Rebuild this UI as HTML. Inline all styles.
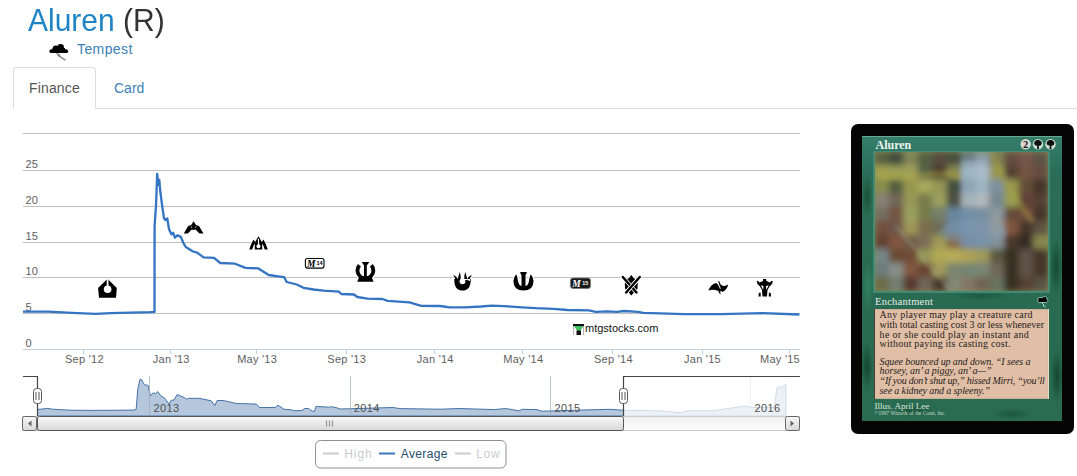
<!DOCTYPE html>
<html><head><meta charset="utf-8">
<style>
html,body{margin:0;padding:0;background:#fff;overflow:hidden;}
body{width:1077px;height:476px;overflow:hidden;position:relative;font-family:"Liberation Sans",sans-serif;}
.abs{position:absolute;white-space:nowrap;}
</style></head><body>
<div class="abs" style="left:28px;top:6px;font-size:30px;line-height:30px;color:#1f84c6;transform:scaleY(1.05);transform-origin:0 26px">Aluren <span style="color:#333">(R)</span></div>
<svg class="abs" style="left:48px;top:42px" width="22" height="20">
<path d="M3.3,9.2 L18.2,9.2" stroke="#000" stroke-width="3.8" stroke-linecap="round"/>
<circle cx="7.6" cy="6.4" r="2.9" fill="#000"/><circle cx="12.6" cy="5.3" r="3.3" fill="#000"/><rect x="4.5" y="6" width="12.5" height="4" fill="#000"/>
<path d="M8.3,11.2 L11.5,13 L10.2,13.6 L17.5,18.2" stroke="#777" stroke-width="1.2" fill="none"/>
</svg>
<div class="abs" style="left:77px;top:41px;font-size:14px;line-height:16px;color:#3a80b9;letter-spacing:0.4px">Tempest</div>
<div class="abs" style="left:13px;top:67px;width:81px;height:41px;border:1px solid #ddd;border-bottom:none;border-radius:4px 4px 0 0;background:#fff"></div>
<div class="abs" style="left:96px;top:108px;width:981px;height:1px;background:#ddd"></div>
<div class="abs" style="left:29px;top:79px;font-size:14px;line-height:18px;color:#555;letter-spacing:0.15px">Finance</div>
<div class="abs" style="left:114px;top:79px;font-size:14px;line-height:18px;color:#3d7fb6">Card</div>
<svg width="1077" height="476" style="position:absolute;left:0;top:0">
<defs><linearGradient id="btn" x1="0" y1="0" x2="0" y2="1"><stop offset="0" stop-color="#f8f8f8"/><stop offset="1" stop-color="#d8d8d8"/></linearGradient><linearGradient id="trk" x1="0" y1="0" x2="0" y2="1"><stop offset="0" stop-color="#eeeeee"/><stop offset="1" stop-color="#ffffff"/></linearGradient></defs>
<path d="M23,133.5 L800,133.5" stroke="#c0c0c0" stroke-width="1" fill="none"/>
<path d="M23,170.5 L800,170.5" stroke="#c0c0c0" stroke-width="1" fill="none"/>
<path d="M23,206.5 L800,206.5" stroke="#c0c0c0" stroke-width="1" fill="none"/>
<path d="M23,242.5 L800,242.5" stroke="#c0c0c0" stroke-width="1" fill="none"/>
<path d="M23,277.5 L800,277.5" stroke="#c0c0c0" stroke-width="1" fill="none"/>
<path d="M23,313.5 L800,313.5" stroke="#c0c0c0" stroke-width="1" fill="none"/>
<path d="M23,349.5 L800,349.5" stroke="#c0d0e0" stroke-width="1" fill="none"/>
<path d="M83.5,349.5 L83.5,354" stroke="#c0d0e0" stroke-width="1"/>
<path d="M170.5,349.5 L170.5,354" stroke="#c0d0e0" stroke-width="1"/>
<path d="M256.5,349.5 L256.5,354" stroke="#c0d0e0" stroke-width="1"/>
<path d="M346.5,349.5 L346.5,354" stroke="#c0d0e0" stroke-width="1"/>
<path d="M434.5,349.5 L434.5,354" stroke="#c0d0e0" stroke-width="1"/>
<path d="M522.5,349.5 L522.5,354" stroke="#c0d0e0" stroke-width="1"/>
<path d="M612.5,349.5 L612.5,354" stroke="#c0d0e0" stroke-width="1"/>
<path d="M702.5,349.5 L702.5,354" stroke="#c0d0e0" stroke-width="1"/>
<path d="M789.5,349.5 L789.5,354" stroke="#c0d0e0" stroke-width="1"/>
<g font-family="Liberation Sans, sans-serif" font-size="11" fill="#606060" letter-spacing="0.25">
<text x="25.5" y="168.0">25</text>
<text x="25.5" y="204.0">20</text>
<text x="25.5" y="240.0">15</text>
<text x="25.5" y="275.0">10</text>
<text x="25.5" y="311.0">5</text>
<text x="25.5" y="347.0">0</text>
<text x="84.4" y="363" text-anchor="middle">Sep '12</text>
<text x="171.3" y="363" text-anchor="middle">Jan '13</text>
<text x="257.1" y="363" text-anchor="middle">May '13</text>
<text x="346.7" y="363" text-anchor="middle">Sep '13</text>
<text x="435.3" y="363" text-anchor="middle">Jan '14</text>
<text x="523.3" y="363" text-anchor="middle">May '14</text>
<text x="613.4" y="363" text-anchor="middle">Sep '14</text>
<text x="702.5" y="363" text-anchor="middle">Jan '15</text>
<text x="800" y="363" text-anchor="end">May '15</text>
</g>
<path d="M23.0,311.6 L48.6,311.6 L72.0,312.8 L95.4,313.9 L111.0,313.2 L130.5,312.6 L150.0,312.2 L154.5,311.9 L154.6,226.0 L155.6,211.7 L156.0,205.8 L157.2,173.9 L158.4,184.8 L159.3,179.8 L160.1,189.8 L162.3,206.7 L164.0,218.4 L165.6,220.1 L167.3,218.4 L169.0,229.3 L171.5,234.4 L173.2,232.7 L174.9,237.7 L177.4,235.2 L180.8,236.9 L183.3,242.8 L185.8,247.0 L193.0,251.5 L197.2,252.6 L203.5,257.4 L214.0,257.8 L220.3,263.0 L235.0,263.7 L245.5,267.9 L258.0,268.3 L268.7,275.0 L280.0,276.6 L284.2,277.2 L286.7,282.0 L296.8,284.5 L303.5,287.8 L313.6,289.5 L323.7,290.7 L338.8,291.7 L341.3,294.0 L354.0,294.5 L357.3,297.0 L367.4,298.7 L382.5,299.0 L387.6,300.8 L409.4,302.4 L421.2,305.8 L439.7,306.0 L444.1,306.5 L449.4,307.3 L465.3,307.3 L481.2,306.5 L491.7,305.6 L504.1,306.1 L521.7,307.3 L535.9,308.2 L553.5,308.8 L567.6,310.0 L588.8,310.3 L595.8,311.8 L606.4,311.4 L617.0,311.8 L624.0,311.0 L637.9,311.9 L643.4,312.8 L684.3,314.1 L721.4,314.1 L762.3,313.2 L799.4,314.5" stroke="#3474c2" stroke-width="2.3" fill="none" stroke-linejoin="round"/>
<path d="M37.5,409.5 L47.8,408.4 L52.3,409.2 L70.1,410.2 L92.4,410.4 L134.0,410.1 L136.2,409.2 L137.7,389.9 L140.0,379.2 L141.4,379.5 L144.4,384.7 L148.1,385.4 L150.4,395.8 L153.3,392.8 L155.6,393.6 L157.8,391.6 L160.8,395.8 L164.5,398.0 L168.9,404.0 L171.2,400.3 L174.1,400.0 L177.1,394.6 L184.5,397.6 L186.7,399.3 L188.2,398.3 L199.3,398.3 L211.2,400.8 L214.9,405.6 L217.1,400.5 L223.1,400.5 L236.5,403.5 L248.4,403.8 L256.5,404.1 L259.5,407.5 L275.1,407.5 L278.1,405.3 L284.0,409.3 L290.7,409.7 L294.4,410.8 L301.8,410.5 L304.8,408.5 L308.5,408.5 L312.2,411.2 L314.5,411.2 L316.0,406.4 L328.6,407.2 L331.6,406.7 L337.5,408.0 L340.0,409.0 L393.5,407.5 L399.4,408.6 L441.0,409.2 L458.9,408.5 L494.5,409.6 L500.0,409.0 L505.9,408.6 L513.4,409.8 L519.3,410.8 L522.3,409.3 L537.1,409.6 L541.6,411.2 L580.2,410.1 L610.0,409.3 L623.4,410.3 L660.0,410.8 L680.8,412.7 L686.0,410.8 L712.0,410.8 L736.7,407.2 L744.5,406.0 L753.6,407.5 L774.4,407.5 L777.0,387.4 L779.6,386.7 L781.6,387.7 L784.8,384.4 L785.9,384.0 L785.9,416 L37.5,416 Z" fill="#b5c7dc" stroke="#4572a7" stroke-width="1"/>
<path d="M149.5,376 L149.5,416" stroke="#a0a8b0" stroke-opacity="0.7" stroke-width="1"/>
<path d="M350.5,376 L350.5,416" stroke="#a0a8b0" stroke-opacity="0.7" stroke-width="1"/>
<path d="M550.5,376 L550.5,416" stroke="#a0a8b0" stroke-opacity="0.7" stroke-width="1"/>
<path d="M750.5,376 L750.5,416" stroke="#a0a8b0" stroke-opacity="0.7" stroke-width="1"/>
<rect x="624" y="376" width="176" height="40.5" fill="#ffffff" fill-opacity="0.75"/>
<rect x="23" y="376" width="14.5" height="40.5" fill="#ffffff" fill-opacity="0.75"/>
<g font-family="Liberation Sans, sans-serif" font-size="11" fill="#505050" letter-spacing="0.4">
<text x="153.4" y="411.6">2013</text>
<text x="353.7" y="411.6">2014</text>
<text x="554.5" y="411.6">2015</text>
<text x="754.4" y="411.6">2016</text>
</g>
<path d="M23,376.5 L37.5,376.5 L37.5,416.5 L623.5,416.5 L623.5,376.5 L800,376.5" stroke="#444" stroke-width="1.2" fill="none"/>
<rect x="22.5" y="416.5" width="777" height="14" fill="url(#trk)" stroke="#cccccc" stroke-width="1"/>
<rect x="37.5" y="416.5" width="586" height="14" rx="2" fill="url(#btn)" stroke="#555" stroke-width="1"/>
<path d="M326.5,420.5 L326.5,426.5 M329.5,420.5 L329.5,426.5 M332.5,420.5 L332.5,426.5" stroke="#999" stroke-width="1.2"/>
<rect x="22.5" y="416.5" width="14" height="14" rx="2" fill="url(#btn)" stroke="#666" stroke-width="1"/>
<path d="M28,423.5 L31.5,420.5 L31.5,426.5 Z" fill="#666"/>
<rect x="785.5" y="416.5" width="14" height="14" rx="2" fill="url(#btn)" stroke="#666" stroke-width="1"/>
<path d="M794,423.5 L790.5,420.5 L790.5,426.5 Z" fill="#666"/>
<rect x="33.5" y="388.5" width="8" height="15" rx="3" fill="#fff" stroke="#555" stroke-width="1"/>
<path d="M36.0,392 L36.0,400 M39.0,392 L39.0,400" stroke="#555" stroke-width="1"/>
<rect x="619.5" y="388.5" width="8" height="15" rx="3" fill="#fff" stroke="#555" stroke-width="1"/>
<path d="M622.0,392 L622.0,400 M625.0,392 L625.0,400" stroke="#555" stroke-width="1"/>
</svg>

<svg width="1077" height="476" style="position:absolute;left:0;top:0">
<defs><g id="ic">
<!-- RTR -->
<path d="M107.5,278.8 L116.8,288 L116,297.8 L99,297.8 L98.1,288 Z"/>
<!-- GTC -->
<path d="M193.6,221.3 L196,225 L199,226 L203.5,233.5 L199.5,233.5 L195.5,229.5 L193.6,230 L191.7,229.5 L187.8,233.5 L183.8,233.5 L188.2,226 L191.2,225 Z"/>
<!-- DGM -->
<path d="M253.6,239.6 Q250.8,244 249.2,249.6 L252.3,249.6 Q253.3,245.5 255.3,242.2 Z M263.4,239.6 Q266.2,244 267.8,249.6 L264.7,249.6 Q263.7,245.5 261.7,242.2 Z M258.5,236.2 L260.3,239.2 L262.2,242.8 L262.2,249.6 L254.8,249.6 L254.8,242.8 L256.7,239.2 Z"/>
<!-- THS -->
<path d="M361.7,262.1 L369.4,262.1 L366.8,265.5 L366.8,276.5 L364,276.5 L364,265.5 Z"/>
<path d="M358.0,263.9 A9.9,9.9 0 1 0 372.8,263.9 L369.9,266.6 A6.0,6.0 0 1 1 360.9,266.6 Z"/>
<path d="M359.5,276.3 L371.3,276.3 L373.6,281.8 L357.2,281.8 Z"/>
<!-- BNG -->
<path d="M454.3,279 L470.7,279 Q471,290.6 462.5,290.6 Q454,290.6 454.3,279 Z M453.1,275 Q457,276 458,280 L455,281 Q455.5,277.5 453.1,275 Z M459.8,272.1 Q461.3,276 460.8,280 L457.5,280 Q458.5,276 459.8,272.1 Z M465.2,272.1 Q463.7,276 464.2,280 L467.5,280 Q466.5,276 465.2,272.1 Z M471.9,275 Q468,276 467,280 L470,281 Q469.5,277.5 471.9,275 Z"/>
<!-- JOU -->
<path d="M516.3,274.2 Q517.5,277 517.8,280 Q518.5,285.5 521.5,286 L521.5,275 L520.3,273.3 L520.3,272.1 L526.7,272.1 L526.7,273.3 L525.5,275 L525.5,286 Q528.5,285.5 529.2,280 Q529.5,277 530.7,274.2 Q533.5,277 533.5,281 Q533.5,290.6 523.5,290.6 Q513.4,290.6 513.4,281 Q513.4,277 516.3,274.2 Z"/>
<!-- KTK -->
<path d="M631.3,275.1 L633.8,278.3 L637.8,280 L637.5,288.5 L631.3,295.5 L625,288.5 L624.8,280 L628.8,278.3 Z"/>
<!-- FRF -->
<path d="M708.3,290.5 Q711,283.5 716.5,283 L719.5,286.5 L718.2,282 L719,280.5 Q719.5,284 722.5,285.8 Q725.5,286.5 728.2,284.5 Q727,290 722.5,292 L720.5,290.5 L720.3,295 L718.3,291 Q713,289 708.3,290.5 Z"/>
<!-- DTK -->
<path d="M763,279 L766,279 L766.5,281 L770,282.5 L771.5,280.8 L772.8,281.3 L772,284 L769.5,286.5 L767.5,290 L767,296.5 L762.5,296.5 L762,290 L760,286.5 L757.5,284 L756.7,281.3 L758,280.8 L759.5,282.5 L763,281 Z M758.8,293 L760.5,292.5 L760.8,296.5 L758.5,296.5 Z M770.7,293 L769,292.5 L768.7,296.5 L771,296.5 Z"/>
</g></defs>
<use href="#ic" fill="#fff" stroke="#fff" stroke-width="2.2" stroke-linejoin="round"/>
<use href="#ic" fill="#000"/>
<g fill="#fff">
<circle cx="107.6" cy="289.3" r="3.8"/><rect x="106.7" y="278" width="1.8" height="10"/><circle cx="462.5" cy="281.3" r="2.9"/><rect x="460.8" y="272" width="3.4" height="9"/>
<path d="M190.5,226.5 L192,228.3 L191.5,226.3 Z M196.7,226.5 L195.2,228.3 L195.7,226.3 Z"/>
<circle cx="258.5" cy="246.2" r="2"/><rect x="257.9" y="238.8" width="1.2" height="7"/>

<path d="M760.8,285.3 L763.5,286 L763.2,290 Z M768.7,285.3 L766,286 L766.3,290 Z"/>
<path d="M717.5,283 L720,289 L720.8,288.6 L718.3,282.6 Z"/>
</g>
<g stroke-linecap="round">
<path d="M622.8,277 L636.5,292.5 M639.8,277 L626.1,292.5" stroke="#fff" stroke-width="4"/>
<path d="M622.8,277 L636.5,292.5" stroke="#000" stroke-width="2.4"/>
<path d="M639.8,277 L626.1,292.5" stroke="#fff" stroke-width="4"/>
<path d="M639.8,277 L626.1,292.5" stroke="#000" stroke-width="2.4"/>
</g>
<!-- M14 -->
<rect x="305.4" y="258.5" width="18.6" height="9.6" rx="2" fill="#fff" stroke="#000" stroke-width="1.1"/>
<text x="307" y="266.8" font-family="Liberation Serif,serif" font-weight="bold" font-style="italic" font-size="9.5" fill="#000" letter-spacing="-0.6">M</text>
<text x="316.5" y="264.6" font-family="Liberation Sans,sans-serif" font-weight="bold" font-size="5.5" fill="#000">14</text>
<!-- M15 -->
<rect x="570.5" y="278" width="20" height="10.5" rx="2.5" fill="#1a1a1a" stroke="#777" stroke-width="0.8"/>
<text x="572.3" y="286.8" font-family="Liberation Serif,serif" font-weight="bold" font-style="italic" font-size="9.5" fill="#fff" letter-spacing="-0.6">M</text>
<text x="582.3" y="284.8" font-family="Liberation Sans,sans-serif" font-weight="bold" font-size="5.5" fill="#fff">15</text>
<!-- mtgstocks -->
<rect x="573" y="324" width="11" height="2.2" fill="#111"/>
<path d="M574,326 L583.5,326 L579.8,331.5 L577.6,331.5 Z" fill="#3cc060"/>
<rect x="576.5" y="330.5" width="4.5" height="4.5" fill="#111"/>
<path d="M573.6,326 L573.6,335 M583.6,326 L583.6,335" stroke="#999" stroke-width="0.8"/>
<text x="585" y="331.8" font-family="Liberation Sans,sans-serif" font-size="11" fill="#111">mtgstocks.com</text>
<!-- legend -->
<rect x="315.5" y="440.5" width="190.5" height="27.5" rx="5" fill="none" stroke="#909090" stroke-width="1"/>
<path d="M323,453.5 L339,453.5" stroke="#cccccc" stroke-width="2"/>
<path d="M379,453.5 L395,453.5" stroke="#3a78c0" stroke-width="2"/>
<path d="M454.8,453.5 L470.8,453.5" stroke="#cccccc" stroke-width="2"/>
<g font-family="Liberation Sans,sans-serif" font-size="12">
<text x="344.3" y="457.8" fill="#cccccc" letter-spacing="0.9">High</text>
<text x="400.8" y="457.8" fill="#274b6d" letter-spacing="0.35">Average</text>
<text x="476.2" y="457.8" fill="#cccccc" letter-spacing="0.7">Low</text>
</g>
</svg>


<div class="abs" style="left:851px;top:124px;width:223px;height:310px;background:#050505;border-radius:7px"></div>
<div class="abs" style="left:862px;top:136px;width:200px;height:285px;background:
radial-gradient(ellipse 8px 30px at 5px 60px, rgba(20,70,50,0.7), rgba(20,70,50,0) 70%),
radial-gradient(ellipse 8px 40px at 6px 150px, rgba(60,150,120,0.5), rgba(60,150,120,0) 70%),
radial-gradient(ellipse 9px 35px at 5px 230px, rgba(15,60,40,0.8), rgba(15,60,40,0) 70%),
radial-gradient(ellipse 9px 40px at 194px 130px, rgba(15,65,45,0.8), rgba(15,65,45,0) 70%),
radial-gradient(ellipse 9px 40px at 195px 240px, rgba(15,60,40,0.8), rgba(15,60,40,0) 70%),
radial-gradient(ellipse 30px 9px at 50px 275px, rgba(20,70,50,0.6), rgba(20,70,50,0) 70%),
radial-gradient(ellipse 30px 9px at 150px 278px, rgba(20,70,50,0.6), rgba(20,70,50,0) 70%),
radial-gradient(ellipse 40px 6px at 120px 160px, rgba(20,70,50,0.5), rgba(20,70,50,0) 70%),
linear-gradient(180deg,#347e6c 0px,#2f7864 16px,#2a6c56 40px,#286a52 150px,#2a6c52 285px)"></div>
<div class="abs" style="left:862px;top:136px;width:200px;height:1px;background:#6aa890"></div>
<div class="abs" style="left:875.5px;top:137px;font-family:'Liberation Serif',serif;font-weight:bold;font-size:12px;line-height:16px;color:#eef4ee;letter-spacing:0px">Aluren</div>
<svg class="abs" style="left:1020px;top:138px" width="38" height="13">
<circle cx="5.7" cy="6.3" r="5.2" fill="#d8d8d0"/><text x="5.7" y="10.2" font-family="Liberation Serif,serif" font-weight="bold" font-size="10.5" text-anchor="middle" fill="#111">2</text>
<circle cx="18" cy="6.3" r="5.2" fill="#d0e0d0"/><path d="M18,2 C15,2 13.5,4.5 14.5,6.5 C15.5,8 17,7.5 17.3,8 L17,11 L19,11 L18.7,8 C19,7.5 20.5,8 21.5,6.5 C22.5,4.5 21,2 18,2 Z" fill="#101010"/>
<circle cx="30.5" cy="6.3" r="5.2" fill="#d0e0d0"/><path d="M30.5,2 C27.5,2 26,4.5 27,6.5 C28,8 29.5,7.5 29.8,8 L29.5,11 L31.5,11 L31.2,8 C31.5,7.5 33,8 34,6.5 C35,4.5 33.5,2 30.5,2 Z" fill="#101010"/>
</svg>
<div class="abs" style="left:873px;top:151px;width:177px;height:142px;background:#438a70"></div>
<svg width="173" height="139" style="position:absolute;left:875px;top:152px;display:block"><defs><filter id="bl" x="-5%" y="-5%" width="110%" height="110%"><feGaussianBlur stdDeviation="3"/></filter><filter id="bl2" x="-10%" y="-10%" width="120%" height="120%"><feGaussianBlur stdDeviation="2"/></filter><clipPath id="ac"><rect width="173" height="139"/></clipPath><pattern id="tx" width="9" height="7" patternUnits="userSpaceOnUse" patternTransform="rotate(30)"><path d="M0,3.5 Q2.25,1 4.5,3.5 T9,3.5" stroke="#1a1a10" stroke-width="1" fill="none"/></pattern></defs><g clip-path="url(#ac)"><rect width="173" height="139" fill="#809058"/><g filter="url(#bl)"><rect x="-0.5" y="-0.5" width="15.4" height="14.9" fill="#5c6143"/><rect x="13.9" y="-0.5" width="15.4" height="14.9" fill="#424e3c"/><rect x="28.3" y="-0.5" width="15.4" height="14.9" fill="#818556"/><rect x="42.8" y="-0.5" width="15.4" height="14.9" fill="#546042"/><rect x="57.2" y="-0.5" width="15.4" height="14.9" fill="#574b3e"/><rect x="71.6" y="-0.5" width="15.4" height="14.9" fill="#4a4f3d"/><rect x="86.0" y="-0.5" width="15.4" height="14.9" fill="#6b7d83"/><rect x="100.4" y="-0.5" width="15.4" height="14.9" fill="#899aa5"/><rect x="114.8" y="-0.5" width="15.4" height="14.9" fill="#7f7f54"/><rect x="129.2" y="-0.5" width="15.4" height="14.9" fill="#654d40"/><rect x="143.7" y="-0.5" width="15.4" height="14.9" fill="#74554a"/><rect x="158.1" y="-0.5" width="15.4" height="14.9" fill="#5e5246"/><rect x="-0.5" y="13.4" width="15.4" height="14.9" fill="#a0a053"/><rect x="13.9" y="13.4" width="15.4" height="14.9" fill="#9a9f59"/><rect x="28.3" y="13.4" width="15.4" height="14.9" fill="#a0a05a"/><rect x="42.8" y="13.4" width="15.4" height="14.9" fill="#546048"/><rect x="57.2" y="13.4" width="15.4" height="14.9" fill="#4a3932"/><rect x="71.6" y="13.4" width="15.4" height="14.9" fill="#868650"/><rect x="86.0" y="13.4" width="15.4" height="14.9" fill="#93abb7"/><rect x="100.4" y="13.4" width="15.4" height="14.9" fill="#a4b5c1"/><rect x="114.8" y="13.4" width="15.4" height="14.9" fill="#979750"/><rect x="129.2" y="13.4" width="15.4" height="14.9" fill="#544135"/><rect x="143.7" y="13.4" width="15.4" height="14.9" fill="#745543"/><rect x="158.1" y="13.4" width="15.4" height="14.9" fill="#654d40"/><rect x="-0.5" y="27.3" width="15.4" height="14.9" fill="#878d4c"/><rect x="13.9" y="27.3" width="15.4" height="14.9" fill="#535f3c"/><rect x="28.3" y="27.3" width="15.4" height="14.9" fill="#979750"/><rect x="42.8" y="27.3" width="15.4" height="14.9" fill="#a9a95d"/><rect x="57.2" y="27.3" width="15.4" height="14.9" fill="#979757"/><rect x="71.6" y="27.3" width="15.4" height="14.9" fill="#424e3c"/><rect x="86.0" y="27.3" width="15.4" height="14.9" fill="#788fa1"/><rect x="100.4" y="27.3" width="15.4" height="14.9" fill="#93abb7"/><rect x="114.8" y="27.3" width="15.4" height="14.9" fill="#7e909c"/><rect x="129.2" y="27.3" width="15.4" height="14.9" fill="#979750"/><rect x="143.7" y="27.3" width="15.4" height="14.9" fill="#644d39"/><rect x="158.1" y="27.3" width="15.4" height="14.9" fill="#44362a"/><rect x="-0.5" y="41.2" width="15.4" height="14.9" fill="#868074"/><rect x="13.9" y="41.2" width="15.4" height="14.9" fill="#716559"/><rect x="28.3" y="41.2" width="15.4" height="14.9" fill="#979757"/><rect x="42.8" y="41.2" width="15.4" height="14.9" fill="#767b4c"/><rect x="57.2" y="41.2" width="15.4" height="14.9" fill="#9aa05f"/><rect x="71.6" y="41.2" width="15.4" height="14.9" fill="#4b4f43"/><rect x="86.0" y="41.2" width="15.4" height="14.9" fill="#9ea4a4"/><rect x="100.4" y="41.2" width="15.4" height="14.9" fill="#aeaeae"/><rect x="114.8" y="41.2" width="15.4" height="14.9" fill="#758792"/><rect x="129.2" y="41.2" width="15.4" height="14.9" fill="#999f52"/><rect x="143.7" y="41.2" width="15.4" height="14.9" fill="#624337"/><rect x="158.1" y="41.2" width="15.4" height="14.9" fill="#544135"/><rect x="-0.5" y="55.1" width="15.4" height="14.9" fill="#736d61"/><rect x="13.9" y="55.1" width="15.4" height="14.9" fill="#745543"/><rect x="28.3" y="55.1" width="15.4" height="14.9" fill="#9aa05f"/><rect x="42.8" y="55.1" width="15.4" height="14.9" fill="#767b4c"/><rect x="57.2" y="55.1" width="15.4" height="14.9" fill="#737f6b"/><rect x="71.6" y="55.1" width="15.4" height="14.9" fill="#69869d"/><rect x="86.0" y="55.1" width="15.4" height="14.9" fill="#718fa6"/><rect x="100.4" y="55.1" width="15.4" height="14.9" fill="#788fa1"/><rect x="114.8" y="55.1" width="15.4" height="14.9" fill="#8e9aa0"/><rect x="129.2" y="55.1" width="15.4" height="14.9" fill="#644b39"/><rect x="143.7" y="55.1" width="15.4" height="14.9" fill="#724f3c"/><rect x="158.1" y="55.1" width="15.4" height="14.9" fill="#44362a"/><rect x="-0.5" y="69.0" width="15.4" height="14.9" fill="#724f3c"/><rect x="13.9" y="69.0" width="15.4" height="14.9" fill="#6c5448"/><rect x="28.3" y="69.0" width="15.4" height="14.9" fill="#9e9958"/><rect x="42.8" y="69.0" width="15.4" height="14.9" fill="#7b6d50"/><rect x="57.2" y="69.0" width="15.4" height="14.9" fill="#6d6c54"/><rect x="71.6" y="69.0" width="15.4" height="14.9" fill="#6e8698"/><rect x="86.0" y="69.0" width="15.4" height="14.9" fill="#7890a7"/><rect x="100.4" y="69.0" width="15.4" height="14.9" fill="#7f90a2"/><rect x="114.8" y="69.0" width="15.4" height="14.9" fill="#9b9b95"/><rect x="129.2" y="69.0" width="15.4" height="14.9" fill="#82573f"/><rect x="143.7" y="69.0" width="15.4" height="14.9" fill="#44362a"/><rect x="158.1" y="69.0" width="15.4" height="14.9" fill="#5e5240"/><rect x="-0.5" y="82.9" width="15.4" height="14.9" fill="#614231"/><rect x="13.9" y="82.9" width="15.4" height="14.9" fill="#82573f"/><rect x="28.3" y="82.9" width="15.4" height="14.9" fill="#6e5c4a"/><rect x="42.8" y="82.9" width="15.4" height="14.9" fill="#7b6e56"/><rect x="57.2" y="82.9" width="15.4" height="14.9" fill="#9e9958"/><rect x="71.6" y="82.9" width="15.4" height="14.9" fill="#86674a"/><rect x="86.0" y="82.9" width="15.4" height="14.9" fill="#758799"/><rect x="100.4" y="82.9" width="15.4" height="14.9" fill="#788fa1"/><rect x="114.8" y="82.9" width="15.4" height="14.9" fill="#859197"/><rect x="129.2" y="82.9" width="15.4" height="14.9" fill="#49372b"/><rect x="143.7" y="82.9" width="15.4" height="14.9" fill="#342c26"/><rect x="158.1" y="82.9" width="15.4" height="14.9" fill="#868650"/><rect x="-0.5" y="96.8" width="15.4" height="14.9" fill="#768686"/><rect x="13.9" y="96.8" width="15.4" height="14.9" fill="#694b33"/><rect x="28.3" y="96.8" width="15.4" height="14.9" fill="#714c35"/><rect x="42.8" y="96.8" width="15.4" height="14.9" fill="#979757"/><rect x="57.2" y="96.8" width="15.4" height="14.9" fill="#b0aa57"/><rect x="71.6" y="96.8" width="15.4" height="14.9" fill="#b7ab58"/><rect x="86.0" y="96.8" width="15.4" height="14.9" fill="#aea255"/><rect x="100.4" y="96.8" width="15.4" height="14.9" fill="#9e9958"/><rect x="114.8" y="96.8" width="15.4" height="14.9" fill="#5a5941"/><rect x="129.2" y="96.8" width="15.4" height="14.9" fill="#382d21"/><rect x="143.7" y="96.8" width="15.4" height="14.9" fill="#5e5246"/><rect x="158.1" y="96.8" width="15.4" height="14.9" fill="#44362a"/><rect x="-0.5" y="110.7" width="15.4" height="14.9" fill="#6b7c7c"/><rect x="13.9" y="110.7" width="15.4" height="14.9" fill="#86908a"/><rect x="28.3" y="110.7" width="15.4" height="14.9" fill="#82573f"/><rect x="42.8" y="110.7" width="15.4" height="14.9" fill="#674331"/><rect x="57.2" y="110.7" width="15.4" height="14.9" fill="#9e9958"/><rect x="71.6" y="110.7" width="15.4" height="14.9" fill="#7a856e"/><rect x="86.0" y="110.7" width="15.4" height="14.9" fill="#758573"/><rect x="100.4" y="110.7" width="15.4" height="14.9" fill="#7a8674"/><rect x="114.8" y="110.7" width="15.4" height="14.9" fill="#716559"/><rect x="129.2" y="110.7" width="15.4" height="14.9" fill="#382d21"/><rect x="143.7" y="110.7" width="15.4" height="14.9" fill="#5e5246"/><rect x="158.1" y="110.7" width="15.4" height="14.9" fill="#44362a"/><rect x="-0.5" y="124.6" width="15.4" height="14.9" fill="#6c6b47"/><rect x="13.9" y="124.6" width="15.4" height="14.9" fill="#737d71"/><rect x="28.3" y="124.6" width="15.4" height="14.9" fill="#57392d"/><rect x="42.8" y="124.6" width="15.4" height="14.9" fill="#716559"/><rect x="57.2" y="124.6" width="15.4" height="14.9" fill="#49372b"/><rect x="71.6" y="124.6" width="15.4" height="14.9" fill="#838775"/><rect x="86.0" y="124.6" width="15.4" height="14.9" fill="#837765"/><rect x="100.4" y="124.6" width="15.4" height="14.9" fill="#706453"/><rect x="114.8" y="124.6" width="15.4" height="14.9" fill="#677361"/><rect x="129.2" y="124.6" width="15.4" height="14.9" fill="#382d21"/><rect x="143.7" y="124.6" width="15.4" height="14.9" fill="#544135"/><rect x="158.1" y="124.6" width="15.4" height="14.9" fill="#595145"/></g><g filter="url(#bl2)" opacity="0.38">
<path d="M2,22 Q25,27 45,24 Q70,18 90,27 Q105,30 112,27" stroke="#b0a840" stroke-width="7" fill="none"/>
<path d="M117,2 Q127,25 140,45 Q152,62 158,70" stroke="#a8a43c" stroke-width="5" fill="none"/>
<rect x="87" y="8" width="24" height="46" fill="#b0c8d8"/>
<ellipse cx="98" cy="80" rx="34" ry="13" fill="#7a9cb8"/>
<path d="M20,73 L75,138" stroke="#c0c0b8" stroke-width="2" fill="none"/>
</g></g></svg>
<div class="abs" style="left:875px;top:295.8px;font-family:'Liberation Serif',serif;font-size:10.5px;line-height:12px;color:#e8f0e8;letter-spacing:0.25px">Enchantment</div>
<svg class="abs" style="left:1036px;top:295px" width="13" height="13">
<path d="M2,6 C1,3 4,1.5 6,3 C7.5,0.5 11.5,1.5 11,4.5 C12.5,5.5 12,8 9.5,7.5 L4,7.5 C2.5,8 1,7 2,6 Z" fill="#000" stroke="#cfe" stroke-width="0.7"/>
<path d="M6,8 L8,10 L7,10.5 L9.5,12" stroke="#cfe" stroke-width="0.8" fill="none"/>
</svg>
<div class="abs" style="left:874px;top:309px;width:175px;height:90px;background:#e0bfa6;box-shadow:inset 1px 0 0 rgba(50,35,25,0.8), inset -1px 0 0 rgba(235,225,195,0.9), inset 0 0 2px rgba(90,60,40,0.4)"></div>
<div class="abs" style="left:879.6px;top:309.9px;font-family:'Liberation Serif',serif;font-size:10.0px;line-height:10px;color:#2a221c;letter-spacing:0.218px">Any player may play a creature card</div>
<div class="abs" style="left:879.6px;top:319.7px;font-family:'Liberation Serif',serif;font-size:10.0px;line-height:10px;color:#2a221c;letter-spacing:-0.007px">with total casting cost 3 or less whenever</div>
<div class="abs" style="left:879.6px;top:329.8px;font-family:'Liberation Serif',serif;font-size:10.0px;line-height:10px;color:#2a221c;letter-spacing:0.312px">he or she could play an instant and</div>
<div class="abs" style="left:879.6px;top:339.1px;font-family:'Liberation Serif',serif;font-size:10.0px;line-height:10px;color:#2a221c;letter-spacing:0.214px">without paying its casting cost.</div>
<div class="abs" style="left:879.6px;top:356.6px;font-family:'Liberation Serif',serif;font-style:italic;font-size:10.0px;line-height:10px;color:#2a221c;letter-spacing:-0.117px">Squee bounced up and down. “I sees a</div>
<div class="abs" style="left:879.6px;top:366.3px;font-family:'Liberation Serif',serif;font-style:italic;font-size:10.0px;line-height:10px;color:#2a221c;letter-spacing:-0.077px">horsey, an’ a piggy, an’ a—”</div>
<div class="abs" style="left:879.6px;top:376.0px;font-family:'Liberation Serif',serif;font-style:italic;font-size:10.0px;line-height:10px;color:#2a221c;letter-spacing:-0.257px">“If you don’t shut up,” hissed Mirri, “you’ll</div>
<div class="abs" style="left:879.6px;top:385.7px;font-family:'Liberation Serif',serif;font-style:italic;font-size:10.0px;line-height:10px;color:#2a221c;letter-spacing:-0.128px">see a kidney and a spleeny.”</div>
<div class="abs" style="left:874.6px;top:400.5px;font-family:'Liberation Serif',serif;font-size:9px;line-height:10px;color:#dce8dc">Illus. April Lee</div>
<div class="abs" style="left:874.6px;top:409.5px;font-family:'Liberation Serif',serif;font-size:5.3px;line-height:6px;color:#c8d8c8">©1997 Wizards of the Coast, Inc.</div>

</body></html>
